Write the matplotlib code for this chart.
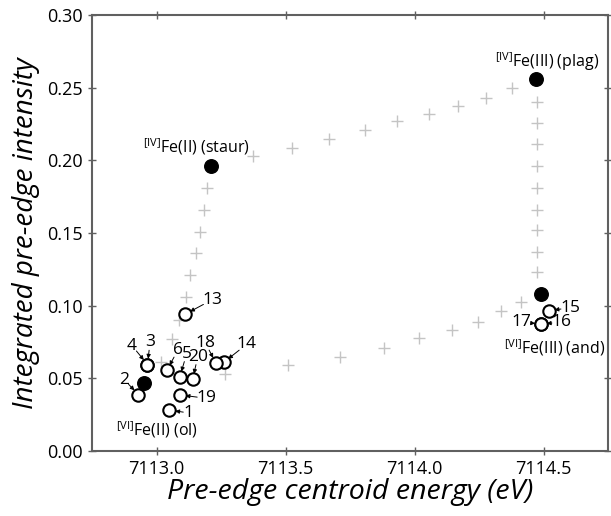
import matplotlib
matplotlib.use('Agg')
import matplotlib.pyplot as plt

plt.rcParams['font.family'] = ['Open Sans', 'DejaVu Sans']
plt.rcParams['mathtext.default'] = 'regular'

# end members (filled)
end_x = [7112.95, 7113.21, 7114.47, 7114.49]
end_y = [0.047, 0.196, 0.256, 0.108]
end_names = [r'$^{[VI]}$Fe(II) (ol)', r'$^{[IV]}$Fe(II) (staur)',
             r'$^{[IV]}$Fe(III) (plag)', r'$^{[VI]}$Fe(III) (and)']
end_label_x = [7113.00, 7113.155, 7114.515, 7114.545]
end_label_y = [0.0150, 0.2092, 0.2678, 0.0712]

# mixing lines (gray crosses)
mix_x = [7113.196, 7113.183, 7113.169, 7113.153, 7113.131, 7113.115, 7113.089, 7113.059, 7113.018,
         7113.375, 7113.526, 7113.670, 7113.807, 7113.933, 7114.057, 7114.170, 7114.277, 7114.376,
         7114.475, 7114.475, 7114.475, 7114.475, 7114.475, 7114.475, 7114.475, 7114.475, 7114.475,
         7114.414, 7114.335, 7114.245, 7114.147, 7114.018, 7113.880, 7113.713, 7113.511, 7113.266]
mix_y = [0.181, 0.1655, 0.151, 0.136, 0.121, 0.106, 0.090, 0.077, 0.061,
         0.2028, 0.2088, 0.215, 0.2207, 0.2267, 0.2317, 0.2372, 0.243, 0.250,
         0.240, 0.226, 0.211, 0.196, 0.181, 0.166, 0.152, 0.137, 0.123,
         0.1023, 0.0960, 0.0890, 0.0832, 0.0775, 0.0708, 0.0644, 0.0593, 0.0529]

# samples (open circles)
samp_id = ['1', '2', '3', '4', '5', '6', '13', '14', '15', '16', '17', '18', '19', '20']
samp_x = [7113.05, 7112.93, 7112.965, 7112.965, 7113.09, 7113.04, 7113.11, 7113.26,
          7114.52, 7114.49, 7114.49, 7113.23, 7113.09, 7113.14]
samp_y = [0.0281, 0.0388, 0.0595, 0.0595, 0.0508, 0.0554, 0.094, 0.0609,
          0.0966, 0.0874, 0.0874, 0.0605, 0.0386, 0.0492]
lab_x = [7113.125, 7112.875, 7112.975, 7112.905, 7113.117, 7113.082, 7113.215, 7113.35,
         7114.605, 7114.57, 7114.415, 7113.189, 7113.195, 7113.16]
lab_y = [0.0262, 0.0490, 0.0750, 0.0725, 0.0670, 0.0692, 0.1040, 0.0735,
         0.0985, 0.0886, 0.0886, 0.0745, 0.0362, 0.0650]
# arrow start gap (points) from label centre
lab_gap = [4, 4.5, 6, 5, 6, 5.5, 7, 7, 7, 7, 7, 6, 7, 6]

fig = plt.figure(figsize=(6.11, 5.16), dpi=100)
ax = fig.add_axes([0.1506, 0.1260, 0.8445, 0.8450])

ax.scatter(mix_x, mix_y, marker='+', s=65, c='#c4c4c4', linewidths=1.0, zorder=1)
ax.scatter(samp_x, samp_y, marker='o', s=80, facecolors='white', edgecolors='black',
           linewidths=1.5, zorder=3)
ax.scatter(end_x, end_y, marker='o', s=95, c='black', zorder=4)

for i in range(len(end_names)):
    ax.text(end_label_x[i], end_label_y[i], end_names[i], fontsize=11.5,
            ha='center', va='center')

for i in range(len(samp_id)):
    ax.annotate(samp_id[i], xy=(samp_x[i], samp_y[i]), xytext=(lab_x[i], lab_y[i]),
                fontsize=12.5, ha='center', va='center',
                arrowprops=dict(arrowstyle='-|>', color='black', lw=0.7,
                                mutation_scale=6, patchA=None,
                                shrinkA=lab_gap[i], shrinkB=4.2))

ax.set_xlim(7112.75, 7114.75)
ax.set_ylim(0, 0.30)
ax.set_xticks([7113.0, 7113.5, 7114.0, 7114.5])
ax.set_xticklabels(['7113.0', '7113.5', '7114.0', '7114.5'])
ax.set_yticks([0.00, 0.05, 0.10, 0.15, 0.20, 0.25, 0.30])
ax.set_yticklabels(['0.00', '0.05', '0.10', '0.15', '0.20', '0.25', '0.30'])
ax.tick_params(direction='inout', length=6, width=1, color='#606060', labelsize=13,
               top=True, right=True)
for s in ax.spines.values():
    s.set_color('#606060')
    s.set_linewidth(1.5)

ax.set_xlabel('Pre-edge centroid energy (eV)', fontsize=20.5, style='italic', labelpad=0)
ax.set_ylabel('Integrated pre-edge intensity', fontsize=20, style='italic', labelpad=5)

fig.savefig('out.png', dpi=100)
